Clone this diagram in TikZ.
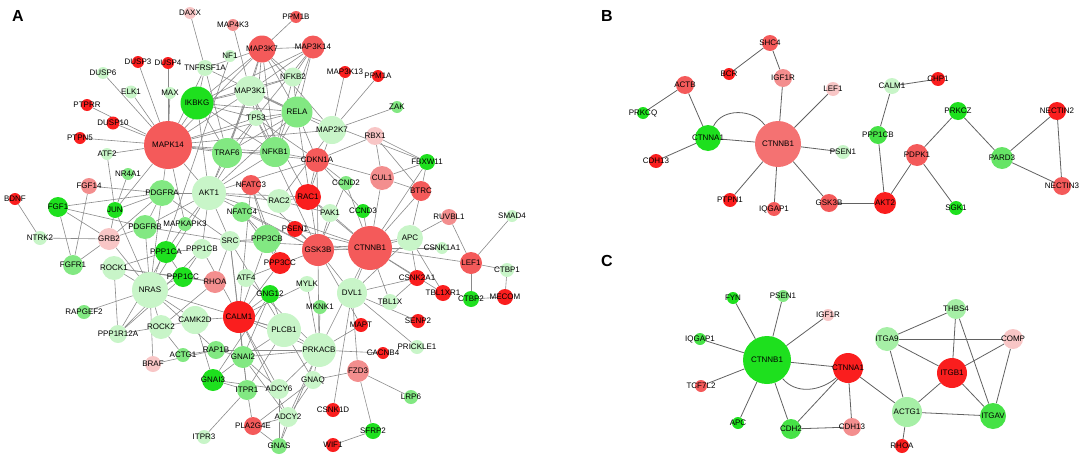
\documentclass[tikz,border=0pt]{standalone}
\usepackage{fontspec}
\setmainfont{Liberation Sans}
\usetikzlibrary{backgrounds}
\definecolor{R1}{HTML}{FA1E1E}
\definecolor{R2}{HTML}{F45A5A}
\definecolor{R3}{HTML}{F38E8E}
\definecolor{R4}{HTML}{F8C6C6}
\definecolor{RB}{HTML}{F47272}
\definecolor{G1}{HTML}{1EE01E}
\definecolor{G1b}{HTML}{46E246}
\definecolor{G2}{HTML}{82E882}
\definecolor{G2b}{HTML}{66E466}
\definecolor{G3}{HTML}{C8F5C8}
\definecolor{G3b}{HTML}{A6EFA6}
\newcommand\gn[6]{\node[gnode,fill=#5,minimum size=#4pt,label={[glab]center:#6}] (#1) at (#2,#3) {};}
\begin{document}
\begin{tikzpicture}[x=1pt,y=-1pt,
  gnode/.style={circle,inner sep=0pt,draw=none},
  glab/.style={font=\fontsize{8}{9}\selectfont,inner sep=0pt,text=black},
  aedge/.style={draw=black!46,line width=0.6pt},
  bedge/.style={draw=black!62,line width=0.8pt},
  plab/.style={font=\fontsize{16}{18}\selectfont\bfseries,inner sep=0pt}]
\useasboundingbox (0,0) rectangle (1084,458);
\node[plab] (labA) at (18,16) {A};
\node[plab] (labB) at (607,16) {B};
\node[plab] (labC) at (607,261) {C};
% ---------------- Panel A ----------------
\gn{aDAXX}{190}{13}{12}{R4}{DAXX}
\gn{aDUSP3}{138}{62}{12}{R1}{DUSP3}
\gn{aDUSP4}{168}{63}{12}{R1}{DUSP4}
\gn{aTNFRSF1A}{205}{68}{16}{G3}{TNFRSF1A}
\gn{aDUSP6}{103}{73}{12}{G3}{DUSP6}
\gn{aELK1}{131}{92}{13}{G3}{ELK1}
\gn{aMAX}{170}{93}{12}{G3}{MAX}
\gn{aIKBKG}{197}{103}{33}{G1}{IKBKG}
\gn{aPTPRR}{87}{105}{12}{R1}{PTPRR}
\gn{aDUSP10}{113}{123}{13}{R1}{DUSP10}
\gn{aPTPN5}{80}{138}{12}{R1}{PTPN5}
\gn{aMAPK14}{168}{145}{48}{R2}{MAPK14}
\gn{aATF2}{107}{154}{12}{G3}{ATF2}
\gn{aPPM1B}{296}{17}{12}{R2}{PPM1B}
\gn{aMAP4K3}{233}{25}{12}{R3}{MAP4K3}
\gn{aMAP3K7}{262}{49}{27}{R2}{MAP3K7}
\gn{aMAP3K14}{313}{47}{23}{R2}{MAP3K14}
\gn{aNF1}{230}{56}{12}{G3}{NF1}
\gn{aMAP3K13}{345}{72}{12}{R1}{MAP3K13}
\gn{aPPM1A}{378}{76}{12}{R1}{PPM1A}
\gn{aNFKB2}{293}{77}{19}{G3}{NFKB2}
\gn{aMAP3K1}{250}{91}{30}{G3}{MAP3K1}
\gn{aRELA}{297}{112}{31}{G2}{RELA}
\gn{aTP53}{256}{118}{16}{G3}{TP53}
\gn{aMAP2K7}{332}{130}{28}{G3}{MAP2K7}
\gn{aZAK}{397}{107}{12}{G2}{ZAK}
\gn{aRBX1}{375}{136}{18}{R4}{RBX1}
\gn{aTRAF6}{227}{153}{30}{G2}{TRAF6}
\gn{aNFKB1}{275}{152}{30}{G2}{NFKB1}
\gn{aCDKN1A}{317}{160}{24}{R2}{CDKN1A}
\gn{aFBXW11}{427}{162}{16}{G1}{FBXW11}
\gn{aNRfourA1}{128}{174}{12}{G2}{NR4A1}
\gn{aFGF14}{89}{186}{16}{R3}{FGF14}
\gn{aPDGFRA}{162}{193}{26}{G2}{PDGFRA}
\gn{aAKT1}{209}{193}{34}{G3}{AKT1}
\gn{aBDNF}{15}{199}{12}{R1}{BDNF}
\gn{aFGF1}{58}{207}{20}{G1}{FGF1}
\gn{aJUN}{115}{210}{16}{G1}{JUN}
\gn{aPDGFRB}{145}{227}{24}{G2}{PDGFRB}
\gn{aMAPKAPK3}{185}{224}{14}{G2}{MAPKAPK3}
\gn{aNTRK2}{40}{238}{14}{G3}{NTRK2}
\gn{aGRB2}{109}{239}{22}{R4}{GRB2}
\gn{aPPP1CA}{166}{252}{22}{G1}{PPP1CA}
\gn{aPPP1CB}{202}{249}{20}{G3}{PPP1CB}
\gn{aFGFR1}{73}{265}{20}{G2}{FGFR1}
\gn{aROCK1}{114}{268}{24}{G3}{ROCK1}
\gn{aPPP1CC}{183}{277}{20}{G1}{PPP1CC}
\gn{aNRAS}{150}{290}{36}{G3}{NRAS}
\gn{aRHOA}{215}{282}{22}{R3}{RHOA}
\gn{aNFATC3}{251}{185}{20}{R2}{NFATC3}
\gn{aRAC1}{308}{197}{26}{R1}{RAC1}
\gn{aCCND2}{346}{183}{14}{G2}{CCND2}
\gn{aCUL1}{382}{178}{24}{R3}{CUL1}
\gn{aRAC2}{279}{201}{24}{G3}{RAC2}
\gn{aNFATC4}{242}{212}{20}{G2}{NFATC4}
\gn{aPAK1}{330}{213}{18}{G3}{PAK1}
\gn{aCCND3}{363}{211}{14}{G1}{CCND3}
\gn{aPSEN1}{295}{229}{16}{R1}{PSEN1}
\gn{aSRC}{230}{241}{20}{G3}{SRC}
\gn{aPPP3CB}{267}{239}{28}{G2}{PPP3CB}
\gn{aGSK3B}{318}{250}{32}{R2}{GSK3B}
\gn{aCTNNB1}{370}{248}{44}{R2}{CTNNB1}
\gn{aPPP3CC}{280}{263}{22}{R1}{PPP3CC}
\gn{aATF4}{246}{278}{18}{G3}{ATF4}
\gn{aMYLK}{307}{284}{16}{G3}{MYLK}
\gn{aGNG12}{270}{294}{18}{G1}{GNG12}
\gn{aDVL1}{352}{293}{30}{G3}{DVL1}
\gn{aMKNK1}{320}{307}{14}{G2}{MKNK1}
\gn{aTBL1X}{390}{302}{16}{G3}{TBL1X}
\gn{aCALM1}{239}{317}{32}{R1}{CALM1}
\gn{aBTRC}{421}{191}{20}{R2}{BTRC}
\gn{aRUVBL1}{449}{217}{16}{R3}{RUVBL1}
\gn{aSMAD4}{512}{216}{12}{G3}{SMAD4}
\gn{aAPC}{410}{238}{26}{G3}{APC}
\gn{aCSNK1A1}{442}{248}{12}{G3}{CSNK1A1}
\gn{aLEF1}{471}{263}{22}{R2}{LEF1}
\gn{aCTBP1}{507}{270}{14}{G3}{CTBP1}
\gn{aCSNK2A1}{417}{278}{16}{R1}{CSNK2A1}
\gn{aTBL1XR1}{443}{293}{16}{R1}{TBL1XR1}
\gn{aCTBP2}{471}{299}{16}{G1}{CTBP2}
\gn{aMECOM}{505}{297}{16}{R1}{MECOM}
\gn{aRAPGEF2}{84}{312}{14}{G2}{RAPGEF2}
\gn{aPPP1R12A}{118}{334}{18}{G3}{PPP1R12A}
\gn{aROCK2}{161}{327}{24}{G3}{ROCK2}
\gn{aCAMK2D}{195}{320}{28}{G3}{CAMK2D}
\gn{aACTG1}{183}{355}{14}{G2}{ACTG1}
\gn{aBRAF}{153}{364}{16}{R4}{BRAF}
\gn{aGNAI3}{213}{380}{22}{G1}{GNAI3}
\gn{aITPR3}{204}{437}{14}{G3}{ITPR3}
\gn{aPLCB1}{284}{330}{34}{G3}{PLCB1}
\gn{aMAPT}{361}{325}{14}{R1}{MAPT}
\gn{aRAP1B}{216}{350}{18}{G2}{RAP1B}
\gn{aGNAI2}{243}{357}{22}{G2}{GNAI2}
\gn{aPRKACB}{319}{350}{34}{G3}{PRKACB}
\gn{aCACNB4}{383}{353}{12}{R1}{CACNB4}
\gn{aFZD3}{358}{371}{22}{R3}{FZD3}
\gn{aGNAQ}{313}{380}{18}{G3}{GNAQ}
\gn{aITPR1}{247}{390}{20}{G2}{ITPR1}
\gn{aADCY6}{279}{389}{20}{G3}{ADCY6}
\gn{aCSNK1D}{333}{410}{14}{R1}{CSNK1D}
\gn{aADCY2}{288}{417}{20}{G3}{ADCY2}
\gn{aPLA2G4E}{253}{426}{18}{R2}{PLA2G4E}
\gn{aSFRP2}{373}{431}{16}{G1}{SFRP2}
\gn{aGNAS}{279}{446}{16}{G2}{GNAS}
\gn{aWIF1}{333}{445}{14}{R1}{WIF1}
\gn{aSENP2}{418}{321}{14}{R1}{SENP2}
\gn{aPRICKLE1}{417}{347}{14}{G3}{PRICKLE1}
\gn{aLRP6}{411}{397}{14}{G2}{LRP6}
% ---------------- Panel B ----------------
\gn{bSHC4}{770}{43}{16}{R2}{SHC4}
\gn{bBCR}{729}{74}{12}{R1}{BCR}
\gn{bIGF1R}{783}{78}{18}{R3}{IGF1R}
\gn{bACTB}{685}{85}{18}{R2}{ACTB}
\gn{bLEF1}{833}{89}{14}{R4}{LEF1}
\gn{bCALM1}{892}{86}{16}{G3}{CALM1}
\gn{bCHP1}{938}{79}{14}{R1}{CHP1}
\gn{bPRKCQ}{643}{113}{12}{G1}{PRKCQ}
\gn{bPRKCZ}{958}{111}{18}{G1}{PRKCZ}
\gn{bNECTIN2}{1057}{111}{18}{R1}{NECTIN2}
\gn{bCTNNA1}{708}{138}{26}{G1}{CTNNA1}
\gn{bCTNNB1}{778}{144}{46}{RB}{CTNNB1}
\gn{bPPP1CB}{878}{135}{18}{G1b}{PPP1CB}
\gn{bPSEN1}{843}{152}{14}{G3}{PSEN1}
\gn{bPDPK1}{917}{155}{22}{R2}{PDPK1}
\gn{bPARD3}{1002}{158}{22}{G2b}{PARD3}
\gn{bCDH13}{656}{161}{14}{R1}{CDH13}
\gn{bNECTIN3}{1062}{186}{18}{R2}{NECTIN3}
\gn{bPTPN1}{730}{200}{14}{R1}{PTPN1}
\gn{bGSK3B}{829}{203}{18}{R2}{GSK3B}
\gn{bAKT2}{885}{203}{22}{R1}{AKT2}
\gn{bIQGAP1}{774}{209}{14}{R2}{IQGAP1}
\gn{bSGK1}{956}{208}{14}{G1}{SGK1}
% ---------------- Panel C ----------------
\gn{cFYN}{733}{298}{12}{G1}{FYN}
\gn{cPSEN1}{783}{296}{12}{G2}{PSEN1}
\gn{cIGF1R}{828}{315}{12}{R4}{IGF1R}
\gn{cTHBS4}{956}{309}{20}{G3b}{THBS4}
\gn{cIQGAP1}{700}{339}{12}{G1b}{IQGAP1}
\gn{cITGA9}{887}{339}{24}{G3b}{ITGA9}
\gn{cCOMP}{1013}{339}{20}{R4}{COMP}
\gn{cCTNNB1}{767}{360}{48}{G1}{CTNNB1}
\gn{cCTNNA1}{848}{368}{30}{R1}{CTNNA1}
\gn{cITGB1}{952}{373}{30}{R1}{ITGB1}
\gn{cTCF7L2}{701}{386}{12}{R2}{TCF7L2}
\gn{cACTG1}{907}{412}{30}{G3b}{ACTG1}
\gn{cITGAV}{993}{416}{26}{G1b}{ITGAV}
\gn{cAPC}{738}{423}{12}{G1}{APC}
\gn{cCDH2}{791}{429}{20}{G1b}{CDH2}
\gn{cCDH13}{852}{427}{18}{R3}{CDH13}
\gn{cRHOA}{902}{446}{14}{R1}{RHOA}
% ---------------- Edges ----------------
\begin{pgfonlayer}{background}
\foreach \u/\v in {MAPK14/DUSP3, MAPK14/DUSP4, MAPK14/MAX, MAPK14/DUSP6, MAPK14/ELK1, MAPK14/PTPRR, MAPK14/DUSP10, MAPK14/PTPN5, MAPK14/ATF2, MAPK14/IKBKG, MAPK14/MAP3K7, MAPK14/MAP3K1, MAPK14/TRAF6, MAPK14/AKT1, MAPK14/PDGFRA, MAPK14/NFKB1, MAPK14/RELA, MAPK14/MAP2K7, MAPK14/JUN, MAPK14/MAPKAPK3, MAPK14/TP53, MAPK14/CDKN1A, MAPK14/TNFRSF1A,
DAXX/TNFRSF1A, TNFRSF1A/IKBKG, TNFRSF1A/TRAF6, TNFRSF1A/MAP3K7, TNFRSF1A/RELA,
NF1/NRAS, MAP4K3/MAP3K1, PPM1B/MAP3K7,
MAP3K7/MAP3K14, MAP3K7/MAP3K1, MAP3K7/NFKB2, MAP3K7/RELA, MAP3K7/NFKB1, MAP3K7/TRAF6, MAP3K7/IKBKG, MAP3K7/MAP2K7, MAP3K7/TP53,
MAP3K14/NFKB2, MAP3K14/RELA, MAP3K14/NFKB1, MAP3K14/MAP3K1, MAP3K14/IKBKG, MAP3K14/TRAF6,
MAP3K13/MAP2K7, PPM1A/MAP2K7, ZAK/MAP2K7,
MAP3K1/IKBKG, MAP3K1/RELA, MAP3K1/NFKB1, MAP3K1/TRAF6, MAP3K1/TP53, MAP3K1/NFKB2, MAP3K1/MAP2K7, MAP3K1/AKT1, MAP3K1/RAC1,
NFKB2/RELA, NFKB2/NFKB1, NFKB2/IKBKG,
RELA/NFKB1, RELA/TP53, RELA/TRAF6, RELA/IKBKG, RELA/CDKN1A, RELA/AKT1, RELA/GSK3B, RELA/FBXW11,
TP53/NFKB1, TP53/CDKN1A, TP53/AKT1, TP53/IKBKG, TP53/GSK3B,
NFKB1/TRAF6, NFKB1/IKBKG, NFKB1/CDKN1A, NFKB1/AKT1,
TRAF6/IKBKG, TRAF6/AKT1,
MAP2K7/RAC1, MAP2K7/RAC2,
RBX1/CUL1, RBX1/FBXW11, RBX1/BTRC, RBX1/CDKN1A,
FBXW11/CUL1, FBXW11/BTRC, FBXW11/CTNNB1,
CUL1/BTRC, CUL1/CTNNB1, CUL1/CDKN1A,
BTRC/CTNNB1, BTRC/APC,
CDKN1A/CCND2, CDKN1A/CCND3, CDKN1A/AKT1, CDKN1A/GSK3B, CDKN1A/RAC1,
CCND2/GSK3B, CCND3/CTNNB1, CCND2/CTNNB1,
RAC1/PAK1, RAC1/RAC2, RAC1/CTNNB1, RAC1/AKT1,
RAC2/PAK1, RAC2/AKT1,
PAK1/CTNNB1, PAK1/GSK3B,
PSEN1/GSK3B, PSEN1/CTNNB1,
GSK3B/CTNNB1, GSK3B/AKT1, GSK3B/APC, GSK3B/DVL1, GSK3B/MAPT, GSK3B/NFATC3, GSK3B/NFATC4, GSK3B/PRKACB, GSK3B/CSNK1A1,
CTNNB1/APC, CTNNB1/LEF1, CTNNB1/CSNK1A1, CTNNB1/CSNK2A1, CTNNB1/DVL1, CTNNB1/TBL1X, CTNNB1/TBL1XR1, CTNNB1/AKT1, CTNNB1/PRKACB, CTNNB1/SRC,
APC/RUVBL1, APC/TBL1XR1, APC/CSNK2A1,
LEF1/RUVBL1, LEF1/SMAD4, LEF1/CTBP1, LEF1/CTBP2,
CTBP1/MECOM, CTBP2/MECOM, CSNK2A1/TBL1X, CSNK2A1/DVL1,
DVL1/SENP2, DVL1/PRICKLE1, DVL1/FZD3, DVL1/CSNK1D, DVL1/APC,
MAPT/PRKACB,
FZD3/SFRP2, FZD3/LRP6, FZD3/GNAQ,
SFRP2/WIF1,
PRKACB/CACNB4, PRKACB/GNAQ, PRKACB/PLCB1, PRKACB/CALM1, PRKACB/GNAI2, PRKACB/ADCY6, PRKACB/ADCY2, PRKACB/MYLK, PRKACB/RAP1B, PRKACB/ATF4, PRKACB/MKNK1, PRKACB/GNAS,
PLCB1/CALM1, PLCB1/GNAQ, PLCB1/GNAI2, PLCB1/GNG12, PLCB1/ITPR1, PLCB1/NRAS, PLCB1/SRC,
GNAQ/ADCY2, GNAQ/PLA2G4E,
ITPR1/CALM1, ITPR1/GNAI2, ITPR1/ITPR3, ITPR1/PLA2G4E, ITPR1/GNAI3,
ADCY6/GNAI2, ADCY6/GNAS, ADCY6/CALM1, ADCY6/GNAI3,
ADCY2/GNAS, ADCY2/CALM1, ADCY2/GNAI2, ADCY2/PLA2G4E,
PLA2G4E/GNAS,
GNAI2/GNAI3, GNAI2/GNG12, GNAI2/CALM1, GNAI2/RAP1B,
ACTG1/ROCK2, ACTG1/RAP1B,
BRAF/NRAS, BRAF/RAP1B,
CAMK2D/CALM1, CAMK2D/ROCK2, CAMK2D/NRAS, CAMK2D/GNAI3,
NRAS/RAPGEF2, NRAS/PDGFRA, NRAS/PDGFRB, NRAS/GRB2, NRAS/AKT1, NRAS/PPP1CC, NRAS/ROCK1, NRAS/RAP1B,
PPP1R12A/ROCK1, PPP1R12A/ROCK2, PPP1R12A/PPP1CA, PPP1R12A/PPP1CB, PPP1R12A/PPP1CC,
ROCK1/RHOA, ROCK1/PPP1CC, ROCK1/PPP1CA,
ROCK2/RHOA, ROCK2/NRAS,
RHOA/PPP1CC, RHOA/SRC,
PPP1CA/PPP1CB, PPP1CA/PPP1CC, PPP1CA/MAPKAPK3,
PPP1CB/PPP1CC, PPP1CB/CALM1, PPP1CB/AKT1,
FGF1/FGFR1, FGF1/PDGFRB, FGF1/GRB2, FGF1/PDGFRA,
FGF14/FGFR1, FGF14/PDGFRA,
JUN/ATF2, JUN/NRAS, JUN/GRB2,
NTRK2/GRB2, NTRK2/BDNF,
GRB2/PDGFRA, GRB2/PDGFRB, GRB2/FGFR1,
PDGFRA/PDGFRB, PDGFRA/SRC, PDGFRA/AKT1, PDGFRA/JUN,
PDGFRB/SRC, PDGFRB/AKT1,
AKT1/IKBKG, AKT1/SRC, AKT1/MAPKAPK3,
SRC/PPP3CB, SRC/GNAI2, SRC/CALM1,
NFATC3/PPP3CB, NFATC3/PPP3CC, NFATC3/CALM1,
NFATC4/PPP3CB, NFATC4/PPP3CC,
PPP3CB/CALM1, PPP3CB/PPP3CC, PPP3CC/CALM1,
ATF4/GSK3B, MYLK/CALM1,
GNG12/GNAI3, GNG12/CALM1}
  \draw[aedge] (a\u) -- (a\v);
\draw[aedge] (aNRfourA1) -- (aJUN);
\foreach \u/\v in {SHC4/BCR, SHC4/IGF1R, IGF1R/CTNNB1, LEF1/CTNNB1, ACTB/PRKCQ, ACTB/CTNNA1, CTNNA1/CTNNB1, CTNNA1/CDH13, CTNNB1/PSEN1, CTNNB1/PTPN1, CTNNB1/IQGAP1, CTNNB1/GSK3B, GSK3B/AKT2, AKT2/PPP1CB, PPP1CB/CALM1, CALM1/CHP1, AKT2/PDPK1, PDPK1/PRKCZ, PDPK1/SGK1, PRKCZ/PARD3, PARD3/NECTIN2, PARD3/NECTIN3, NECTIN2/NECTIN3}
  \draw[bedge] (b\u) -- (b\v);
\draw[bedge] (bCTNNA1) to[out=65,in=125] (bCTNNB1);
\foreach \u/\v in {FYN/CTNNB1, PSEN1/CTNNB1, IGF1R/CTNNB1, IQGAP1/CTNNB1, TCF7L2/CTNNB1, APC/CTNNB1, CDH2/CTNNB1, CTNNB1/CTNNA1, CTNNA1/CDH2, CTNNA1/CDH13, CDH2/CDH13, CTNNA1/ACTG1, ACTG1/RHOA, ACTG1/ITGA9, ACTG1/ITGB1, ACTG1/ITGAV, ITGA9/THBS4, ITGA9/COMP, ITGA9/ITGB1, THBS4/ITGB1, THBS4/ITGAV, COMP/ITGB1, COMP/ITGAV, ITGB1/ITGAV}
  \draw[bedge] (c\u) -- (c\v);
\draw[bedge] (cCTNNB1) to[out=-50,in=-140] (cCTNNA1);
\end{pgfonlayer}
\end{tikzpicture}
\end{document}
